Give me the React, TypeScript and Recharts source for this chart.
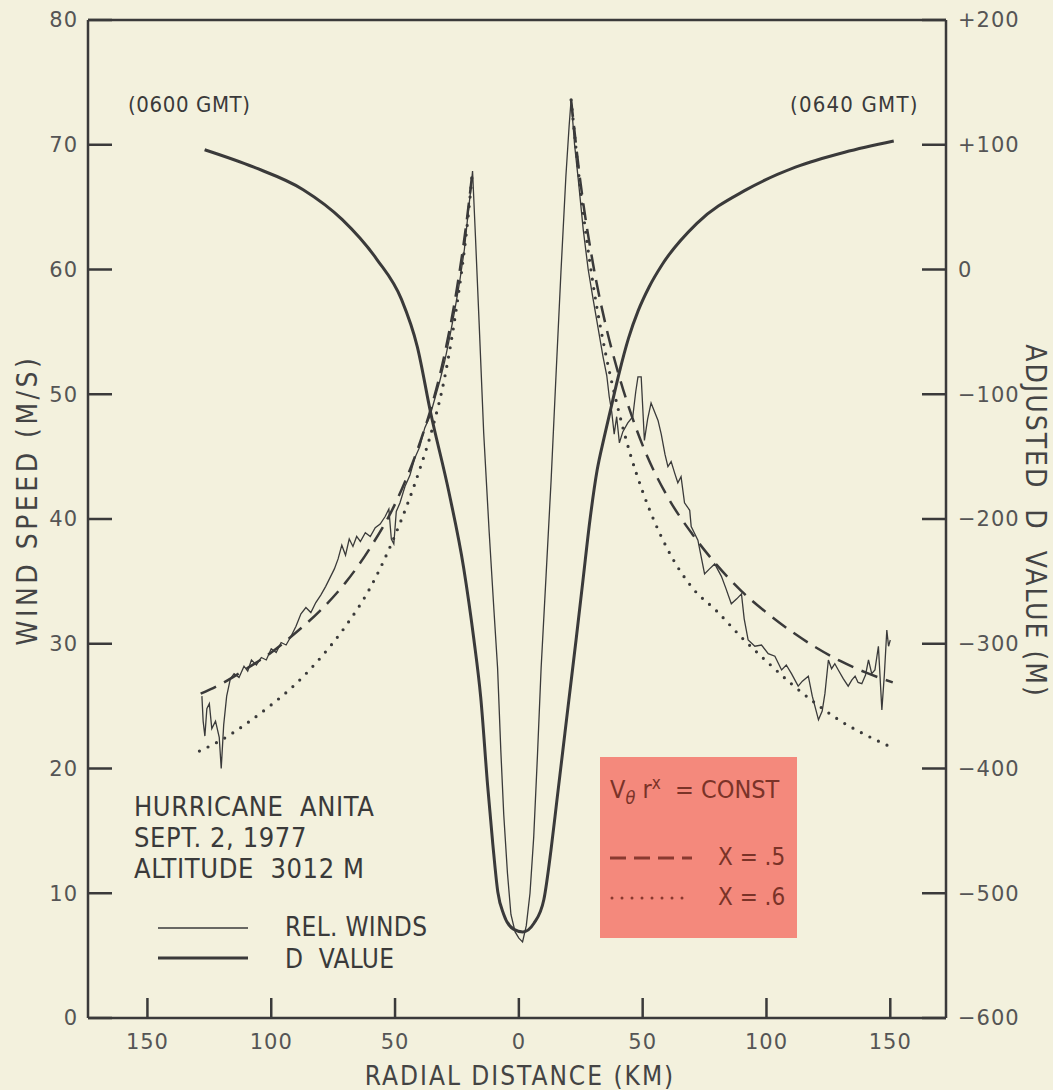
import React from "react";
import { ComposedChart, Line, XAxis, YAxis, ReferenceLine } from "recharts";

// radial distance ticks (km), left of eye shown as positive too
const distanceTicks = [-150, -100, -50, 0, 50, 100, 150];
const windTicks = [0, 10, 20, 30, 40, 50, 60, 70, 80];
const dValueTicks = [-600, -500, -400, -300, -200, -100, 0, 100, 200];

// relative winds, [km, m/s]
const relWinds: [number, number][] = [
  [-128, 25.8], [-127.5, 23.8], [-126.8, 22.6], [-126, 24.8], [-125, 25.2], [-124, 23.2],
  [-122.5, 23.8], [-121, 22.5], [-120.2, 20.0], [-119.2, 23.5], [-118, 25.8], [-116.5, 27.2],
  [-115, 27.6], [-113, 27.3], [-111, 28.2], [-109.5, 27.8], [-108, 28.7], [-106, 28.3],
  [-104, 28.9], [-102, 28.7], [-100, 29.6], [-98, 29.3], [-96, 30.1], [-94, 29.9],
  [-92, 30.6], [-90, 31.4], [-88, 32.4], [-86, 32.9], [-84, 32.5], [-82, 33.3],
  [-80, 33.9], [-78, 34.6], [-76, 35.4], [-74.5, 36.0], [-73, 36.8], [-71.5, 37.9],
  [-70, 37.1], [-68.5, 38.4], [-67, 37.8], [-65.5, 38.6], [-64, 38.2], [-62, 38.9],
  [-60, 38.6], [-58, 39.3], [-56, 39.6], [-54, 40.2], [-52.5, 40.8], [-51.5, 38.4],
  [-50.5, 38.0], [-49.5, 40.6], [-48, 41.3], [-46, 42.6], [-44, 43.5], [-42, 44.9],
  [-40, 45.8], [-38, 47.3], [-36, 48.2], [-34, 49.6], [-32, 51.0], [-30, 52.6],
  [-28, 54.5], [-26, 56.6], [-24, 58.9], [-22, 61.6], [-20.5, 64.5], [-19.2, 66.8],
  [-18.7, 67.9], [-17.5, 62.5], [-16, 55.5], [-14.2, 46.9], [-12, 39.0], [-10.1, 32.8],
  [-8.6, 28.1], [-7.3, 21.5], [-6.1, 16.3], [-4.6, 11.6], [-3.2, 8.3], [-1.5, 6.9],
  [0, 6.4], [1.5, 6.1], [3, 7.4], [4.5, 10.0], [6, 14.5], [7.5, 21.0],
  [9, 28.1], [11, 35.5], [13, 43.0], [15, 51.5], [17, 59.8], [19, 67.5],
  [20.3, 71.5], [21.1, 73.6], [22.5, 70.0], [24, 67.2], [26, 63.2], [28, 60.0],
  [30, 57.6], [32, 55.3], [34, 53.0], [35.5, 51.5], [36.5, 49.8], [37.5, 48.6],
  [38.5, 46.8], [39.5, 48.2], [40.6, 46.1], [42, 47.0], [44, 47.7], [46, 48.2],
  [47.2, 50.2], [48.1, 51.4], [49.4, 51.4], [50.7, 46.3], [52, 48.0], [53.4, 49.3],
  [55, 48.5], [56.2, 47.9], [57.5, 46.8], [59, 45.2], [60.2, 44.2], [61.5, 44.6],
  [62.9, 43.7], [64.2, 42.9], [65.5, 43.4], [66.9, 41.3], [69, 40.7], [69.6, 39.4],
  [72.3, 38.3], [75.0, 35.6], [77, 36.0], [79.1, 36.4], [81.8, 35.4], [83.5, 34.5],
  [85.8, 33.2], [88, 33.6], [89.9, 34.0], [91, 32.0], [92.6, 30.3], [95.3, 29.8],
  [98, 29.9], [100.7, 29.2], [103.4, 29.0], [106.1, 27.9], [108, 28.3], [110.1, 27.6],
  [112.8, 26.6], [114.5, 27.0], [116.9, 27.4], [118.5, 25.8], [121, 23.9], [122.5, 24.6],
  [123.6, 26.0], [125, 28.7], [126.3, 28.0], [127.6, 28.4], [129, 27.9], [131, 27.2],
  [133, 26.6], [134.5, 27.1], [135.8, 27.4], [137, 26.9], [138.5, 26.8], [140, 27.5],
  [141.2, 28.7], [142.5, 27.6], [143.8, 27.9], [145.2, 29.8], [146.6, 24.7], [147.6, 27.5],
  [148.6, 31.1], [149.3, 29.8], [150, 30.3],
];

// adjusted D value, [km, m]
const dValue: [number, number][] = [
  [-126.9, 96], [-107, 82], [-87.1, 64], [-71.3, 40], [-57.3, 8], [-47.4, -24],
  [-41, -62], [-35.6, -115], [-28.3, -178], [-22.3, -239], [-18.2, -296], [-15.4, -343],
  [-12.6, -414], [-10.5, -461], [-8.5, -499], [-6.1, -517], [-2.0, -529], [1.6, -531],
  [6.1, -524], [10.1, -505], [13.0, -465], [15.4, -425], [17.8, -385], [20.2, -345],
  [23.1, -297], [25.9, -249], [28.7, -201], [31.6, -161], [34.4, -135], [37.2, -111],
  [40.5, -83], [44.3, -55], [48.2, -33], [52.6, -14], [57.9, 4], [71.9, 37],
  [91.9, 64], [111.7, 82], [131.6, 94], [151.4, 103],
];

// V r^x = const fits, [km, m/s]
const fitHalfLeft: [number, number][] = [
  [-128.5, 26.0], [-120, 26.8], [-110, 28.0], [-100, 29.3], [-90, 30.9], [-80, 32.7],
  [-70, 34.9], [-60, 37.7], [-50, 41.2], [-40, 46.1], [-35, 49.2], [-30, 53.2],
  [-25, 58.5], [-21, 64.0], [-18.7, 67.9],
];
const fitSixLeft: [number, number][] = [
  [-129, 21.4], [-120, 22.3], [-110, 23.6], [-100, 25.1], [-90, 26.8], [-80, 28.9],
  [-70, 31.4], [-60, 34.5], [-50, 38.7], [-40, 44.0], [-35, 47.2], [-30, 51.3],
  [-25, 57.2], [-21, 63.3], [-18.7, 67.9],
];
const fitHalfRight: [number, number][] = [
  [21.1, 73.6], [25, 66.8], [30, 60.4], [35, 55.6], [40, 51.8], [45, 48.6],
  [50, 45.9], [60, 41.8], [70, 38.8], [80, 36.3], [90, 34.2], [100, 32.5],
  [110, 31.0], [120, 29.7], [130, 28.6], [140, 27.7], [151, 26.9],
];
const fitSixRight: [number, number][] = [
  [21.1, 73.6], [25, 66.2], [30, 58.8], [35, 53.3], [40, 48.9], [45, 45.2],
  [50, 42.2], [60, 37.6], [70, 34.5], [80, 32.6], [90, 30.5], [100, 28.6],
  [110, 26.8], [120, 25.2], [130, 23.8], [140, 22.7], [150.5, 21.7],
];

const INK = "#3a3a3a";
const PAPER = "#f3f1dd";
const NARROW = "'Liberation Sans Narrow', 'DejaVu Sans Condensed', 'Roboto Condensed', sans-serif";
const ROUND = "'DejaVu Sans', sans-serif";

const pts = (arr: [number, number][]) => arr.map(([x, v]) => ({ x, v }));

const formatD = (v: number) => (v > 0 ? `+${v}` : v < 0 ? `\u2212${-v}` : "0");

const tickStyle = { fontFamily: ROUND, fontSize: 21, fill: "#555", letterSpacing: 1 };

export default function App() {
  return (
    <div
      style={{
        position: "absolute",
        left: 0,
        top: 0,
        width: 1053,
        height: 1090,
        background: PAPER,
        color: INK,
        overflow: "hidden",
      }}
    >
      <ComposedChart
        width={1053}
        height={1090}
        margin={{ top: 20, right: 0, left: 0, bottom: 0 }}
      >
        <XAxis
          dataKey="x"
          type="number"
          domain={[-174, 172.5]}
          allowDataOverflow
          ticks={distanceTicks}
          interval={0}
          tickFormatter={(v: number) => String(Math.abs(v))}
          height={72}
          tickSize={-20}
          tickMargin={36}
          stroke={INK}
          strokeWidth={2.5}
          tick={tickStyle}
        />
        <YAxis
          yAxisId="left"
          orientation="left"
          domain={[0, 80]}
          allowDataOverflow
          ticks={windTicks}
          interval={0}
          width={88}
          tickSize={-24}
          tickMargin={34}
          stroke={INK}
          strokeWidth={2.5}
          tick={tickStyle}
        />
        <YAxis
          yAxisId="right"
          orientation="right"
          domain={[-600, 200]}
          allowDataOverflow
          ticks={dValueTicks}
          interval={0}
          tickFormatter={formatD}
          width={107}
          tickSize={-24}
          tickMargin={36}
          stroke={INK}
          strokeWidth={2.5}
          tick={tickStyle}
        />
        <ReferenceLine yAxisId="left" y={80} stroke={INK} strokeWidth={2.5} />

        <Line
          data={pts(fitSixLeft)}
          dataKey="v"
          yAxisId="left"
          type="monotone"
          dot={false}
          stroke={INK}
          strokeWidth={3.2}
          strokeDasharray="0 9.5"
          strokeLinecap="round"
          isAnimationActive={false}
        />
        <Line
          data={pts(fitSixRight)}
          dataKey="v"
          yAxisId="left"
          type="monotone"
          dot={false}
          stroke={INK}
          strokeWidth={3.2}
          strokeDasharray="0 9.5"
          strokeLinecap="round"
          isAnimationActive={false}
        />
        <Line
          data={pts(fitHalfLeft)}
          dataKey="v"
          yAxisId="left"
          type="monotone"
          dot={false}
          stroke={INK}
          strokeWidth={2.5}
          strokeDasharray="17 9"
          isAnimationActive={false}
        />
        <Line
          data={pts(fitHalfRight)}
          dataKey="v"
          yAxisId="left"
          type="monotone"
          dot={false}
          stroke={INK}
          strokeWidth={2.5}
          strokeDasharray="17 9"
          isAnimationActive={false}
        />
        <Line
          data={pts(relWinds)}
          dataKey="v"
          yAxisId="left"
          type="linear"
          dot={false}
          stroke={INK}
          strokeWidth={1.3}
          isAnimationActive={false}
        />
        <Line
          data={pts(dValue)}
          dataKey="v"
          yAxisId="right"
          type="monotone"
          dot={false}
          stroke={INK}
          strokeWidth={3}
          isAnimationActive={false}
        />
      </ComposedChart>

      {/* axis titles */}
      <div
        style={{
          position: "absolute",
          left: 27,
          top: 500,
          transform: "translate(-50%, -50%) rotate(-90deg)",
          whiteSpace: "nowrap",
          fontFamily: NARROW,
          fontSize: 28,
          letterSpacing: 3.5,
          color: "#444",
        }}
      >
        WIND SPEED (M/S)
      </div>
      <div
        style={{
          position: "absolute",
          left: 1035,
          top: 521,
          transform: "translate(-50%, -50%) rotate(90deg)",
          whiteSpace: "nowrap",
          fontFamily: NARROW,
          fontSize: 28,
          letterSpacing: 2,
          color: "#444",
        }}
      >
        ADJUSTED&nbsp; D&nbsp; VALUE (M)
      </div>
      <div
        style={{
          position: "absolute",
          left: 520,
          top: 1064,
          transform: "translateX(-50%)",
          whiteSpace: "nowrap",
          fontFamily: NARROW,
          fontSize: 26,
          lineHeight: "24px",
          letterSpacing: 2,
          color: "#444",
        }}
      >
        RADIAL DISTANCE (KM)
      </div>

      {/* times */}
      <div
        style={{ position: "absolute", left: 128, top: 92, fontFamily: NARROW, fontSize: 22, letterSpacing: 0.6 }}
      >
        (0600 GMT)
      </div>
      <div
        style={{ position: "absolute", left: 790, top: 92, fontFamily: NARROW, fontSize: 22, letterSpacing: 1.2 }}
      >
        (0640 GMT)
      </div>

      {/* storm info */}
      <div
        style={{
          position: "absolute",
          left: 134,
          top: 791,
          fontFamily: NARROW,
          fontSize: 27,
          letterSpacing: 0.6,
          lineHeight: "31px",
          whiteSpace: "pre",
        }}
      >
        {"HURRICANE  ANITA\nSEPT. 2, 1977\nALTITUDE  3012 M"}
      </div>

      {/* line legend */}
      <svg style={{ position: "absolute", left: 150, top: 910 }} width={110} height={60}>
        <line x1={8} x2={98} y1={18} y2={18} stroke={INK} strokeWidth={1.4} />
        <line x1={8} x2={98} y1={48} y2={48} stroke={INK} strokeWidth={3} />
      </svg>
      <div
        style={{
          position: "absolute",
          left: 285,
          top: 911,
          fontFamily: NARROW,
          fontSize: 26,
          letterSpacing: 0.3,
          lineHeight: "32px",
          whiteSpace: "pre",
        }}
      >
        {"REL. WINDS\nD  VALUE"}
      </div>

      {/* fit legend box */}
      <div
        style={{
          position: "absolute",
          left: 600,
          top: 757,
          width: 197,
          height: 181,
          background: "#f4897c",
          color: "#7a3328",
          fontFamily: NARROW,
        }}
      >
        <div style={{ position: "absolute", left: 10, top: 16, fontSize: 25, whiteSpace: "nowrap" }}>
          V<sub style={{ fontSize: 18, fontStyle: "italic" }}>θ</sub> r
          <sup style={{ fontSize: 17 }}>x</sup>&nbsp; = CONST
        </div>
        <svg style={{ position: "absolute", left: 8, top: 92 }} width={90} height={60}>
          <line x1={2} x2={84} y1={9} y2={9} stroke="#8a3a30" strokeWidth={3} strokeDasharray="16 8" />
          <line
            x1={4}
            x2={84}
            y1={49}
            y2={49}
            stroke="#8a3a30"
            strokeWidth={3}
            strokeDasharray="0 10"
            strokeLinecap="round"
          />
        </svg>
        <div style={{ position: "absolute", left: 118, top: 86, fontSize: 24, whiteSpace: "nowrap" }}>
          X = .5
        </div>
        <div style={{ position: "absolute", left: 118, top: 126, fontSize: 24, whiteSpace: "nowrap" }}>
          X = .6
        </div>
      </div>
    </div>
  );
}
